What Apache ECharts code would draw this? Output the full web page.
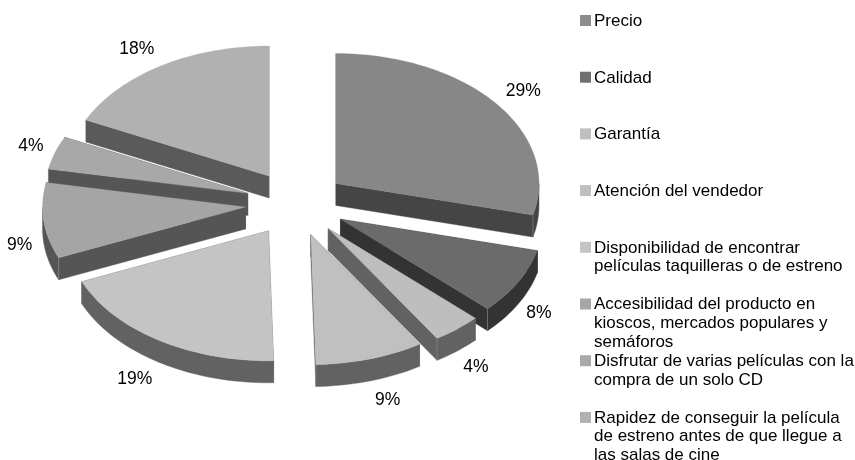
<!DOCTYPE html>
<html>
<head>
<meta charset="utf-8">
<style>html,body{margin:0;padding:0;background:#fff}#chart{width:855px;height:460px}</style>
<script src="https://cdn.jsdelivr.net/npm/echarts@6/dist/echarts.min.js"></script>
</head>
<body>
<div id="chart"></div>
<script>
var categories = [
    'Precio',
    'Calidad',
    'Garantía',
    'Atención del vendedor',
    'Disponibilidad de encontrar\npelículas taquilleras o de estreno',
    'Accesibilidad del producto en\nkioscos, mercados populares y\nsemáforos',
    'Disfrutar de varias películas con la\ncompra de un solo CD',
    'Rapidez de conseguir la película\nde estreno antes de que llegue a\nlas salas de cine'
]
var shares = [28.9, 8.2, 3.9, 8.6, 19.0, 9.4, 4.1, 17.9]
var topColors = ['#878787', '#6b6b6b', '#bebebe', '#c0c0c0', '#c4c4c4', '#a5a5a5', '#a8a8a8', '#b1b1b1']
var sideColors = ['#454545', '#333333', '#626262', '#626262', '#626262', '#555555', '#555555', '#5a5a5a']
var legendColors = ['#8c8c8c', '#6f6f6f', '#bfbfbf', '#bfbfbf', '#c4c4c4', '#a6a6a6', '#a9a9a9', '#b1b1b1']

var depth = 22      // grosor en px
var explode = 0.25  // separacion de las porciones, en radios

var total = shares.reduce(function (a, b) { return a + b }, 0)
var slices = []
var acum = 0
shares.forEach(function (v, i) {
    var a0 = acum / total * Math.PI * 2
    acum += v
    var a1 = acum / total * Math.PI * 2
    slices.push({ i: i, a0: a0, a1: a1, mid: (a0 + a1) / 2 })
})
// de atras hacia adelante
var order = slices.slice().sort(function (a, b) { return Math.cos(b.mid) - Math.cos(a.mid) })

function arcPoints(api, ox, oy, a0, a1) {
    var pts = []
    var n = Math.max(2, Math.ceil((a1 - a0) / 0.03))
    for (var k = 0; k <= n; k++) {
        var a = a0 + (a1 - a0) * k / n
        pts.push(api.coord([ox + Math.sin(a), oy + Math.cos(a)]))
    }
    return pts
}

function wall(points, color) {
    var low = points.map(function (p) { return [p[0], p[1] + depth] }).reverse()
    return {
        type: 'polygon',
        shape: { points: points.concat(low) },
        style: { fill: color, stroke: color, lineWidth: 0.4 }
    }
}

function renderSlice(s) {
    return function (params, api) {
        var color = sideColors[s.i]
        var ox = explode * Math.sin(s.mid)
        var oy = explode * Math.cos(s.mid)
        var apex = api.coord([ox, oy])
        var rim = arcPoints(api, ox, oy, s.a0, s.a1)
        var children = [
            wall([apex, rim[0]], color),
            wall([apex, rim[rim.length - 1]], color)
        ]
        // solo la parte delantera del borde se ve
        var f0 = Math.max(s.a0, Math.PI / 2)
        var f1 = Math.min(s.a1, Math.PI * 1.5)
        if (f1 > f0) {
            children.push(wall(arcPoints(api, ox, oy, f0, f1), color))
        }
        // arista clara donde se juntan las caras
        ;[s.a0, s.a1].forEach(function (a, k) {
            if (Math.cos(a) < 0 && a > Math.PI / 2 && a < Math.PI * 1.5) {
                var p = rim[k ? rim.length - 1 : 0]
                var startsWall = k === 0 ? Math.sin(a) < 0 : Math.sin(a) > 0
                if (startsWall) {
                    children.push({
                        type: 'line',
                        shape: { x1: p[0], y1: p[1], x2: p[0], y2: p[1] + depth },
                        style: { stroke: '#8f8f8f', lineWidth: 0.6 }
                    })
                }
            }
        })
        children.push({
            type: 'polygon',
            shape: { points: [apex].concat(rim) },
            style: { fill: topColors[s.i], stroke: topColors[s.i], lineWidth: 0.3 }
        })
        // etiqueta fuera del borde
        var ux = Math.sin(s.mid), uy = Math.cos(s.mid)
        var edge = api.coord([ox + ux, oy + uy])
        var lx = edge[0] + (ux > 0 ? 23.5 + 6 * uy : -24)
        var ly = edge[1] + (uy < 0 ? depth : 0) - uy * 20.5
        children.push({
            type: 'text',
            style: {
                x: lx, y: ly, text: Math.round(shares[s.i]) + '%',
                fill: '#000', fontFamily: 'Liberation Sans', fontSize: 17.5,
                align: 'center', verticalAlign: 'middle'
            }
        })
        return { type: 'group', children: children }
    }
}

var legendGraphics = []
categories.forEach(function (name, i) {
    var y = 15 + i * 56.7
    legendGraphics.push({
        type: 'rect', left: 580, top: y,
        shape: { width: 11, height: 11 },
        style: { fill: legendColors[i] }
    })
    legendGraphics.push({
        type: 'text', left: 594, top: y - 3.2,
        style: {
            text: name, fill: '#000', fontFamily: 'Liberation Sans',
            fontSize: 17, lineHeight: 18.7
        }
    })
})

var chart = echarts.init(document.getElementById('chart'))
chart.setOption({
    animation: false,
    backgroundColor: '#fff',
    grid: { left: 93, top: 73.5, width: 406, height: 260 },
    xAxis: { type: 'value', min: -1, max: 1, show: false },
    yAxis: { type: 'value', min: -1, max: 1, show: false },
    graphic: legendGraphics,
    series: order.map(function (s) {
        return {
            type: 'custom',
            name: categories[s.i],
            renderItem: renderSlice(s),
            data: [[0, 0, shares[s.i]]],
            silent: true
        }
    })
})
</script>
</body>
</html>
